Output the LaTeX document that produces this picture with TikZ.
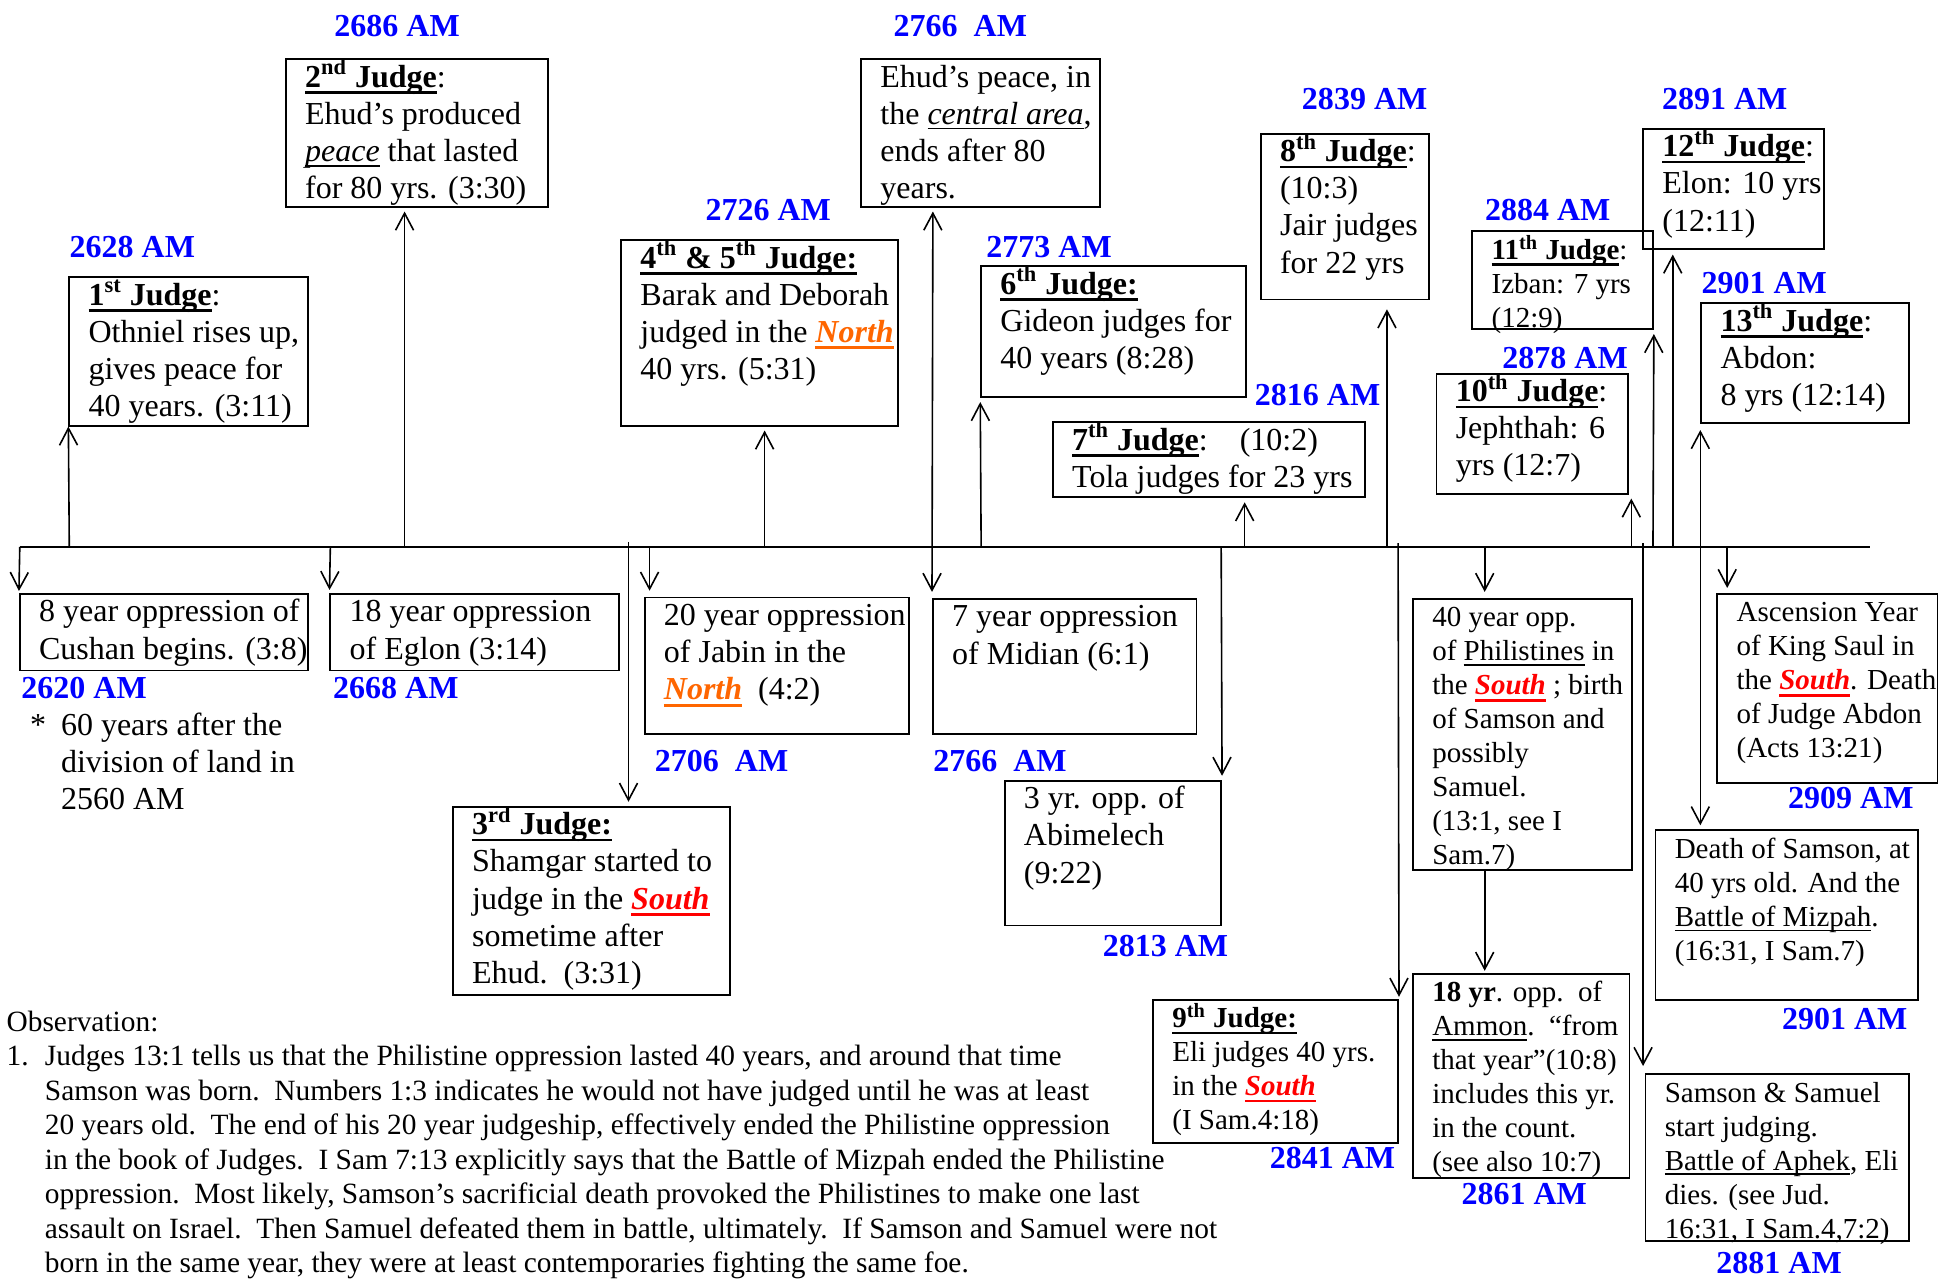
\documentclass[tikz,border=0pt]{standalone}
\usepackage{fontspec}
\setmainfont{Liberation Serif}
\usetikzlibrary{arrows.meta}
\usetikzlibrary{fit}

\newlength{\un}
\setlength{\un}{0.6186pt}
\definecolor{amblue}{RGB}{0,0,255}
\definecolor{northorange}{RGB}{255,102,0}
\definecolor{southred}{RGB}{255,0,0}

\newsavebox{\ulbox}
\newcommand{\fst}{\rule{0pt}{14.3pt}}
\newcommand{\hdr}[1]{\sbox{\ulbox}{\textbf{#1}}\rlap{\rule[-3.3pt]{\wd\ulbox}{1.3pt}}\usebox{\ulbox}}
\newcommand{\undr}[1]{\sbox{\ulbox}{#1}\rlap{\rule[-2.4pt]{\wd\ulbox}{0.7pt}}\usebox{\ulbox}}
\newcommand{\regnorth}{\textcolor{northorange}{\hdr{\textit{North}}}}
\newcommand{\regsouth}{\textcolor{southred}{\hdr{\textit{South}}}}

\tikzset{
  jbox/.style={draw, line width=0.9pt, inner sep=0pt},
  jtxt/.style={anchor=north west, align=left, inner xsep=9.9pt, inner ysep=0pt,
    font=\fontsize{16}{18.56}\selectfont},
  jsmall/.style={jtxt, font=\fontsize{14.5}{17}\selectfont},
  amlabel/.style={anchor=west, inner sep=0pt, text=amblue, font=\fontsize{16}{18.56}\selectfont\bfseries},
  arr/.style={line width=0.8pt, -{Straight Barb[length=8.5pt,width=9pt]}},
  darr/.style={line width=0.8pt, {Straight Barb[length=8.5pt,width=9pt]}-{Straight Barb[length=8.5pt,width=9pt]}}
}

\begin{document}
\begin{tikzpicture}[x=\un, y=-\un]
\useasboundingbox (0,0) rectangle (1568,1033);

% timeline
\coordinate (tl-w) at (16,442);
\coordinate (tl-e) at (1511,442);
\draw[line width=0.8pt] (tl-w) -- (tl-e);

% judges above the line
\node[jbox, fit={(56,224) (249,344)}] (j1) {};
\node[jtxt] (j1-t) at (j1.north west) {\fst\hdr{1\textsuperscript{st} Judge}:\\Othniel rises up,\\gives peace for\\40 years. (3:11)};
\node[jbox, fit={(231,48) (443,167)}] (j2) {};
\node[jtxt] (j2-t) at (j2.north west) {\fst\hdr{2\textsuperscript{nd} Judge}:\\Ehud’s produced\\\undr{\textit{peace}} that lasted\\for 80 yrs. (3:30)};
\node[jbox, fit={(502,194) (726,344)}] (j45) {};
\node[jtxt] (j45-t) at (j45.north west) {\fst\hdr{4\textsuperscript{th} \& 5\textsuperscript{th} Judge:}\\Barak and Deborah\\judged in the \regnorth\\40 yrs. (5:31)};
\node[jbox, fit={(696,48) (889,167)}] (ep) {};
\node[jtxt] (ep-t) at (ep.north west) {\fst Ehud’s peace, in\\the \undr{\textit{central area}},\\ends after 80\\years.};
\node[jbox, fit={(793,215) (1007,321)}] (j6) {};
\node[jtxt] (j6-t) at (j6.north west) {\fst\hdr{6\textsuperscript{th} Judge:}\\Gideon judges for\\40 years (8:28)};
\node[jbox, fit={(851,341) (1103,402)}] (j7) {};
\node[jtxt] (j7-t) at (j7.north west) {\fst\hdr{7\textsuperscript{th} Judge}:\hspace{1em}(10:2)\\Tola judges for 23 yrs};
\node[jbox, fit={(1019,108) (1155,242)}] (j8) {};
\node[jtxt] (j8-t) at (j8.north west) {\fst\hdr{8\textsuperscript{th} Judge}:\\(10:3)\\Jair judges\\for 22 yrs};
\node[jbox, fit={(1161,302) (1316,399)}] (j10) {};
\node[jtxt] (j10-t) at (j10.north west) {\fst\hdr{10\textsuperscript{th} Judge}:\\Jephthah: 6\\yrs (12:7)};
\node[jbox, fit={(1190,187) (1336,266)}] (j11) {};
\node[jsmall] (j11-t) at (j11.north west) {\fst\hdr{11\textsuperscript{th} Judge}:\\Izban: 7 yrs\\(12:9)};
\node[jbox, fit={(1328,104) (1474,201)}] (j12) {};
\node[jtxt] (j12-t) at (j12.north west) {\fst\hdr{12\textsuperscript{th} Judge}:\\Elon: 10 yrs\\(12:11)};
\node[jbox, fit={(1375,245) (1543,342)}] (j13) {};
\node[jtxt] (j13-t) at (j13.north west) {\fst\hdr{13\textsuperscript{th} Judge}:\\Abdon:\\8 yrs (12:14)};

% oppressions and events below the line
\node[jbox, fit={(16,480) (249,542)}] (o8) {};
\node[jtxt] (o8-t) at (o8.north west) {\fst 8 year oppression of\\Cushan begins. (3:8)};
\node[jbox, fit={(267,480) (500,542)}] (o18) {};
\node[jtxt] (o18-t) at (o18.north west) {\fst 18 year oppression\\of Eglon (3:14)};
\node[jbox, fit={(521,483) (735,593)}] (o20) {};
\node[jtxt] (o20-t) at (o20.north west) {\fst 20 year oppression\\of Jabin in the\\\regnorth\ \ (4:2)};
\node[jbox, fit={(754,484) (967,593)}] (o7) {};
\node[jtxt] (o7-t) at (o7.north west) {\fst 7 year oppression\\of Midian (6:1)};
\node[jbox, fit={(366,652) (590,804)}] (j3) {};
\node[jtxt] (j3-t) at (j3.north west) {\fst\hdr{3\textsuperscript{rd} Judge:}\\Shamgar started to\\judge in the \regsouth\\sometime after\\Ehud.\ \ (3:31)};
\node[jbox, fit={(812,631) (987,748)}] (abim) {};
\node[jtxt] (abim-t) at (abim.north west) {\fst 3 yr. opp. of\\Abimelech\\(9:22)};
\node[jbox, fit={(1142,484) (1319,703)}] (o40) {};
\node[jsmall] (o40-t) at (o40.north west) {\fst 40 year opp.\\of \undr{Philistines} in\\the \regsouth\ ; birth\\of Samson and\\possibly\\Samuel.\\(13:1, see I\\Sam.7)};
\node[jbox, fit={(932,808) (1130,924)}] (j9) {};
\node[jsmall] (j9-t) at (j9.north west) {\fst\hdr{9\textsuperscript{th} Judge:}\\Eli judges 40 yrs.\\in the \regsouth\\(I Sam.4:18)};
\node[jbox, fit={(1142,787) (1317,952)}] (amm) {};
\node[jsmall] (amm-t) at (amm.north west) {\fst\textbf{18 yr}. opp.\ \ of\\\undr{Ammon}.\ \ “from\\that year”(10:8)\\includes this yr.\\in the count.\\(see also 10:7)};
\node[jbox, fit={(1388,480) (1566,633)}] (asc) {};
\node[jsmall] (asc-t) at (asc.north west) {\fst Ascension Year\\of King Saul in\\the \regsouth. Death\\of Judge Abdon\\(Acts 13:21)};
\node[jbox, fit={(1338,671) (1550,808)}] (dsam) {};
\node[jsmall] (dsam-t) at (dsam.north west) {\fst Death of Samson, at\\40 yrs old. And the\\\undr{Battle of Mizpah}.\\(16:31, I Sam.7)};
\node[jbox, fit={(1330,868) (1543,1003)}] (ss) {};
\node[jsmall] (ss-t) at (ss.north west) {\fst Samson \& Samuel\\start judging.\\\undr{Battle of Aphek}, Eli\\dies. (see Jud.\\16:31, I Sam.4,7:2)};

% years
\node[amlabel] (l-2686) at (270,21) {2686 AM};
\node[amlabel] (l-2766a) at (722,21) {2766~ AM};
\node[amlabel] (l-2628) at (56,200) {2628 AM};
\node[amlabel] (l-2726) at (570,170) {2726 AM};
\node[amlabel] (l-2773) at (797,200) {2773 AM};
\node[amlabel] (l-2839) at (1052,80) {2839 AM};
\node[amlabel] (l-2891) at (1343,80) {2891 AM};
\node[amlabel] (l-2884) at (1200,170) {2884 AM};
\node[amlabel] (l-2901a) at (1375,229) {2901 AM};
\node[amlabel] (l-2878) at (1214,289) {2878 AM};
\node[amlabel] (l-2816) at (1014,319) {2816 AM};
\node[amlabel] (l-2620) at (17,556) {2620 AM};
\node[amlabel] (l-2668) at (269,556) {2668 AM};
\node[amlabel] (l-2706) at (529,615) {2706~ AM};
\node[amlabel] (l-2766b) at (754,615) {2766~ AM};
\node[amlabel] (l-2909) at (1445,645) {2909 AM};
\node[amlabel] (l-2813) at (891,765) {2813 AM};
\node[amlabel] (l-2901b) at (1440,824) {2901 AM};
\node[amlabel] (l-2841) at (1026,936) {2841 AM};
\node[amlabel] (l-2861) at (1181,965) {2861 AM};
\node[amlabel] (l-2881) at (1387,1021) {2881 AM};

% notes
\node[jtxt, inner xsep=0pt] (star) at (24,571) {\fst *};
\node[jtxt, inner xsep=0pt] (note) at (49,571) {\fst 60 years after the\\division of land in\\2560 AM};
\node[jtxt, inner xsep=0pt, font=\fontsize{14.7}{17.25}\selectfont] (obs) at (5,810) {\fst Observation:\\
\makebox[31\un][l]{1.}Judges 13:1 tells us that the Philistine oppression lasted 40 years, and around that time\\
\hspace*{31\un}Samson was born.\ \ Numbers 1:3 indicates he would not have judged until he was at least\\
\hspace*{31\un}20 years old.\ \ The end of his 20 year judgeship, effectively ended the Philistine oppression\\
\hspace*{31\un}in the book of Judges.\ \ I Sam 7:13 explicitly says that the Battle of Mizpah ended the Philistine\\
\hspace*{31\un}oppression.\ \ Most likely, Samson’s sacrificial death provoked the Philistines to make one last\\
\hspace*{31\un}assault on Israel.\ \ Then Samuel defeated them in battle, ultimately.\ \ If Samson and Samuel were not\\
\hspace*{31\un}born in the same year, they were at least contemporaries fighting the same foe.};

% points on the timeline
\coordinate (t-a1) at (56,442);
\coordinate (t-a2) at (327,442);
\coordinate (t-a3) at (618,442);
\coordinate (t-a4) at (754,442);
\coordinate (t-a5) at (793,442);
\coordinate (t-a6) at (1006,442);
\coordinate (t-a7) at (1121,442);
\coordinate (t-a8) at (1318.5,442);
\coordinate (t-a9) at (1336,442);
\coordinate (t-a10) at (1352,442);
\coordinate (t-d1) at (16,442);
\coordinate (t-d2) at (267,442);
\coordinate (t-d3) at (508,438);
\coordinate (t-d4) at (525,442);
\coordinate (t-d5) at (987,442);
\coordinate (t-d6) at (1130,439);
\coordinate (t-d7) at (1200,442);
\coordinate (t-d9) at (1328,439);
\coordinate (t-d10) at (1396,442);

% arrows up to the judges
\path[arr]
  (t-a1) edge (j1.south west)
  (t-a2) edge[shorten >=2pt] (t-a2 |- j2.south)
  (t-a3) edge[shorten >=2pt] (t-a3 |- j45.south)
  (t-a5) edge[shorten >=2pt] (j6.south west)
  (t-a6) edge[shorten >=2pt] (t-a6 |- j7.south)
  (t-a7) edge[shorten >=4.5pt] (t-a7 |- j8.south)
  (t-a8) edge[shorten >=2pt] (t-a8 |- j10.south)
  (t-a9) edge[shorten >=2pt] (j11.south east)
  (t-a10) edge[shorten >=2.5pt] (t-a10 |- j12.south);
% arrows down to the oppressions
\path[arr]
  (t-d1) edge[shorten >=1pt] (o8.north west)
  (t-d2) edge[shorten >=1.5pt] (o18.north west)
  (t-d3) edge[shorten >=2pt] (t-d3 |- j3.north)
  (t-d4) edge[shorten >=3pt] (t-d4 |- o20.north)
  (t-d5) edge[shorten >=2pt] (abim.north east)
  (t-d6) edge[shorten >=1pt] (j9.north east)
  (t-d7) edge[shorten >=3pt] (t-d7 |- o40.north)
  (o40.south -| t-d7) edge[shorten >=1pt] (amm.north -| t-d7)
  (t-d9) edge[shorten >=3.5pt] (t-d9 |- ss.north)
  (t-d10) edge[shorten >=2.5pt] (t-d10 |- asc.north);
\path[darr]
  (ep.south -| t-a4) edge[shorten <=2pt, shorten >=3pt] (o7.north west)
  (j13.south west) edge[shorten <=3pt, shorten >=2pt] (j13.south west |- dsam.north);
\end{tikzpicture}
\end{document}
